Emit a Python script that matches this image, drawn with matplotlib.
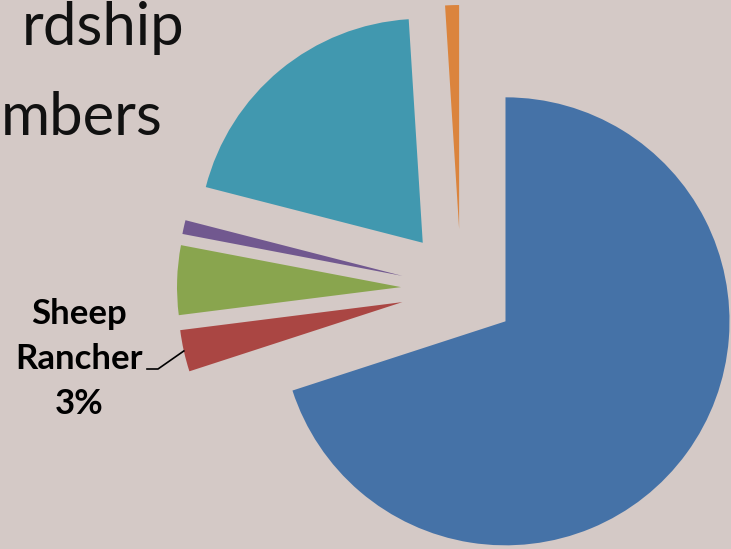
import numpy as np
import matplotlib.pyplot as plt

# slice data (clockwise from 12 o'clock)
categories = ["", "Sheep Rancher", "", "", "", ""]
shares = [70, 3, 5, 1, 20, 1]
slice_colors = ["#4572a7", "#aa4643", "#89a54e", "#71588f", "#4198af", "#db843d"]
explode = [55, 60, 60, 60, 60, 60]   # offsets in pixel units

title_lines = ["rdship", "mbers"]

W, H = 731, 549
bg = "#d4c9c6"

fig = plt.figure(figsize=(W / 100, H / 100), dpi=100, facecolor=bg)
ax = fig.add_axes([0, 0, 1, 1])
ax.set_facecolor(bg)

R = 224
cx, cy = 461, H - 289
wedges, _ = ax.pie(shares, colors=slice_colors, explode=explode, radius=R,
                   center=(cx, cy), startangle=90, counterclock=False,
                   wedgeprops=dict(linewidth=0))

ax.set_xlim(0, W)
ax.set_ylim(0, H)
ax.set_aspect("equal")
ax.axis("off")

# title remnant, kept inside the canvas
ax.text(184, H - 45, title_lines[0], ha="right", va="baseline",
        fontsize=43, family="Lato", color="#111111")
ax.text(163, H - 135, title_lines[1], ha="right", va="baseline",
        fontsize=43, family="Lato", color="#111111")

# data label for the sheep rancher slice with leader line
w = wedges[1]
mid = np.deg2rad((w.theta1 + w.theta2) / 2)
px = w.center[0] + R * np.cos(mid)
py = w.center[1] + R * np.sin(mid)
ax.plot([px, 158, 147], [py, H - 369, H - 369], color="black", lw=1.2)
ax.text(79, H - 359, f"{categories[1].replace(' ', chr(10))}\n{shares[1]}%",
        ha="center", va="center", multialignment="center", linespacing=1.5,
        fontsize=25, fontweight="bold", family="Lato", color="black")

fig.savefig("out.png", dpi=100, facecolor=bg)
